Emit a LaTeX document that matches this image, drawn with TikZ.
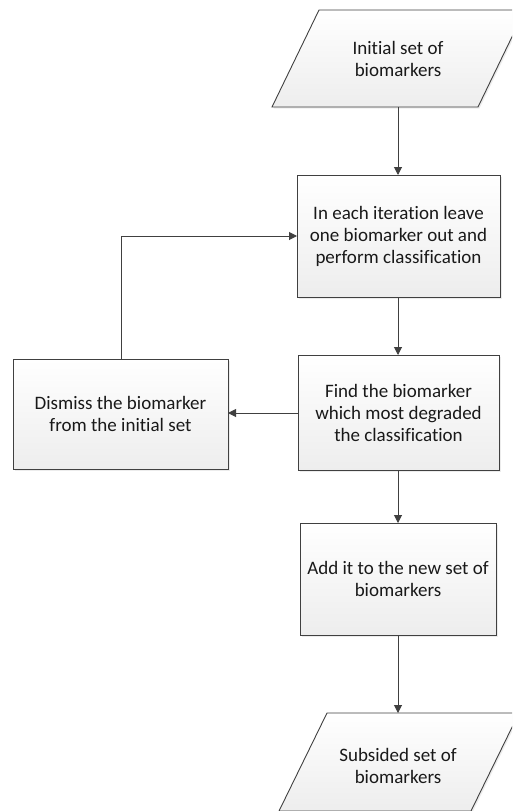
\documentclass[tikz,border=0pt]{standalone}
\usepackage{fontspec}
\setmainfont{Carlito}[Ligatures=NoCommon]
\usetikzlibrary{shapes.geometric,arrows.meta,shadows}
\definecolor{edge}{HTML}{404040}
\begin{document}
\begin{tikzpicture}[x=1pt,y=-1pt,
  boxstyle/.style={draw=edge, line width=0.9pt, top color=white, bottom color=black!7,
    drop shadow={shadow xshift=1.5pt, shadow yshift=-1.5pt, opacity=0.15}},
  txt/.style={align=center, font=\fontsize{19}{22}\selectfont, text=black!90},
  conn/.style={draw=edge, line width=1pt, -{Triangle[length=8pt,width=8pt]}}]
\useasboundingbox (0,0) rectangle (512,811);
\begin{scope}
\clip (0,0) rectangle (512,811);
% top parallelogram
\path[boxstyle] (319,10) -- (525,10) -- (478,107) -- (272,107) -- cycle;
\node[txt] (inp) at (398,59) {Initial set of\\biomarkers};
\coordinate (inpb) at (398,107);
% bottom parallelogram
\path[boxstyle] (327,713) -- (519,713) -- (471,811) -- (279,811) -- cycle;
\node[txt] (outp) at (398,766) {Subsided set of\\biomarkers};
\coordinate (outt) at (398,713);
\end{scope}
\path[boxstyle] (297,175) rectangle (500,297);
\node[txt] (b1) at (398.5,236) {In each iteration leave\\one biomarker out and\\perform classification};
\coordinate (b1t) at (398,175);
\coordinate (b1b) at (398,297);
\coordinate (b1l) at (297,236);
\path[boxstyle] (298,355) rectangle (499,470);
\node[txt] (b2) at (398.5,413) {Find the biomarker\\which most degraded\\the classification};
\coordinate (b2t) at (398,355);
\coordinate (b2b) at (398,470);
\coordinate (b2l) at (298,413);
\path[boxstyle] (300,523) rectangle (496,635);
\node[txt] (b3) at (398,579) {Add it to the new set of\\biomarkers};
\coordinate (b3t) at (398,523);
\coordinate (b3b) at (398,635);
\path[boxstyle] (13,359) rectangle (228,469);
\node[txt] (b4) at (120.5,414) {Dismiss the biomarker\\from the initial set};
\coordinate (b4r) at (228,413);
\coordinate (b4t) at (121,359);
\draw[conn] (inpb) -- (b1t);
\draw[conn] (b1b) -- (b2t);
\draw[conn] (b2b) -- (b3t);
\draw[conn] (b3b) -- (outt);
\draw[conn] (b2l) -- (b4r);
\draw[conn] (b4t) |- (b1l);
\end{tikzpicture}
\end{document}
